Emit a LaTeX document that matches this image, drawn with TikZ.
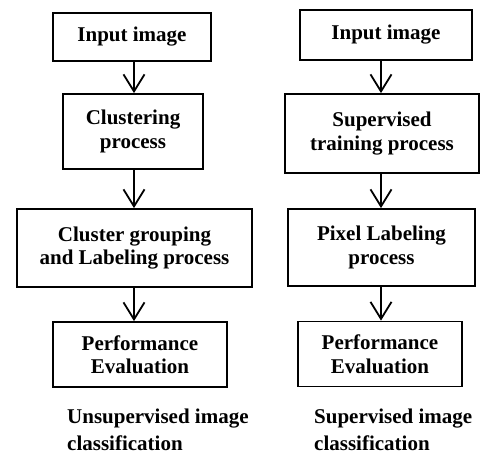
\documentclass[tikz,border=0pt]{standalone}
\usepackage{fontspec}
\setmainfont{Liberation Serif}
\usetikzlibrary{arrows.meta}
\begin{document}
\begin{tikzpicture}[x=1pt,y=-1pt,
  box/.style={draw,line width=1.8pt,inner sep=0pt,align=center,
    font=\fontsize{21}{23.5}\selectfont\bfseries},
  arr/.style={line width=1.8pt,-{Straight Barb[length=17pt,width=21pt]}},
  captext/.style={inner sep=0pt,anchor=base west,align=left,
    font=\fontsize{21}{27}\selectfont\bfseries}]
\useasboundingbox (0,0) rectangle (481,453);
% left column
\node[box,minimum width=158pt,minimum height=48pt] (L1) at (132,37) {Input image};
\node[box,minimum width=140pt,minimum height=75pt] (L2) at (133,131.5) {Clustering\\process};
\node[box,minimum width=235pt,minimum height=78pt] (L3) at (134.5,248) {Cluster grouping\\and Labeling process};
\node[box,minimum width=174pt,minimum height=65pt] (L4) at (140,354.5) {Performance\\Evaluation};
\coordinate (ax) at (134,0);
\draw[arr] (L1.south -| ax) -- (L2.north -| ax);
\draw[arr] (L2.south -| ax) -- (L3.north -| ax);
\draw[arr] (L3.south -| ax) -- (L4.north -| ax);
\node[captext] (LC) at (67,450) {Unsupervised image\\classification};
% right column
\node[box,minimum width=172pt,minimum height=50pt] (R1) at (386,35) {Input image};
\node[box,minimum width=194pt,minimum height=79pt] (R2) at (382,133.5) {Supervised\\training process};
\node[box,minimum width=187pt,minimum height=77pt] (R3) at (381.5,247.5) {Pixel Labeling\\process};
\node[box,minimum width=164pt,minimum height=65pt] (R4) at (380,354) {Performance\\Evaluation};
\coordinate (bx) at (381,0);
\draw[arr] (R1.south -| bx) -- (R2.north -| bx);
\draw[arr] (R2.south -| bx) -- (R3.north -| bx);
\draw[arr] (R3.south -| bx) -- (R4.north -| bx);
\node[captext] (RC) at (314,450) {Supervised image\\classification};
\end{tikzpicture}
\end{document}
